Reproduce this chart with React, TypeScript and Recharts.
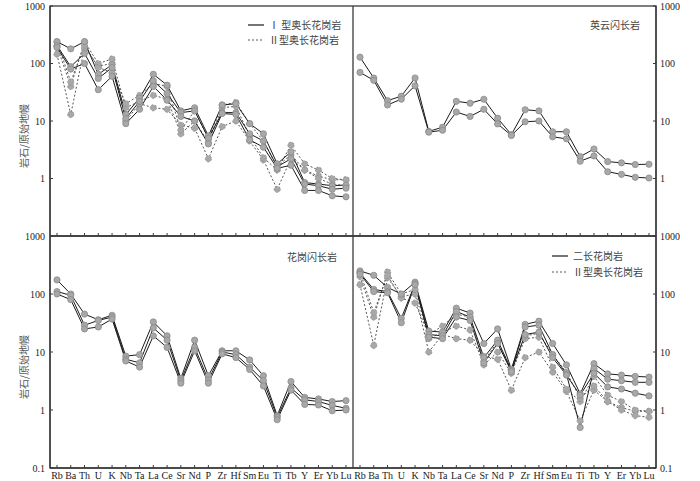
import { LineChart, Line, XAxis, YAxis } from "recharts";

const elements = ["Rb", "Ba", "Th", "U", "K", "Nb", "Ta", "La", "Ce", "Sr", "Nd", "P", "Zr", "Hf", "Sm", "Eu", "Ti", "Tb", "Y", "Er", "Yb", "Lu"];

// I型奥长花岗岩
const typeI1 = [240, 180, 240, 65, 95, 13, 25, 65, 42, 15, 17, 5.5, 19, 20, 9, 6, 1.8, 2.9, 0.85, 0.8, 0.75, 0.77];
const typeI2 = [205, 88, 150, 55, 85, 11, 22, 50, 30, 14, 15, 5, 14, 14, 6, 4.5, 1.6, 2.2, 0.8, 0.75, 0.65, 0.68];
const typeI3 = [190, 80, 100, 35, 60, 9, 16, 40, 23, 12, 10, 4, 13.5, 13, 4.7, 3.5, 1.5, 1.7, 0.62, 0.62, 0.5, 0.48];

// II型奥长花岗岩
const typeII1 = [145, 13, 190, 90, 100, 10, 20, 17, 16, 8.5, 7.5, 2.2, 8, 10, 4.5, 2.1, 0.65, 2.2, 1.4, 1.1, 0.95, 0.95];
const typeII2 = [200, 40, 240, 100, 120, 17, 22, 28, 24, 6, 10, 4.3, 17, 18, 5.5, 2.3, 1.4, 3.8, 1.8, 1.4, 1.0, 0.95];
const typeII3 = [240, 48, 210, 85, 70, 20, 28, 45, 40, 7, 15, 5, 19, 21, 9, 4.5, 1.6, 2.6, 1.4, 1.0, 0.8, 0.75];

// 英云闪长岩
const tonalite1 = [129, 56, 22.6, 27, 56, 6.6, 7.8, 22, 20.4, 23.9, 11.2, 5.8, 15.7, 15, 6.5, 6.5, 2.4, 3.26, 1.97, 1.87, 1.75, 1.77];
const tonalite2 = [70, 51, 19, 24, 41, 6.4, 6.9, 14.3, 12, 16, 8.9, 5.6, 9.7, 10, 5.3, 4.9, 2.0, 2.47, 1.31, 1.18, 1.05, 1.02];

// 花岗闪长岩
const granodiorite1 = [175, 100, 45, 36, 43, 8.5, 9, 33, 19, 3.5, 16, 3.9, 10.5, 10.5, 7.3, 3.9, 0.8, 3.1, 1.65, 1.55, 1.4, 1.45];
const granodiorite2 = [110, 95, 29, 35, 40, 7.5, 6.5, 26, 16, 3.2, 12, 3.3, 10, 9, 5.5, 3.2, 0.75, 2.4, 1.5, 1.4, 1.2, 1.07];
const granodiorite3 = [100, 80, 25, 27, 37, 7, 5.5, 19, 12, 2.9, 10.5, 2.9, 9.3, 8, 5, 2.6, 0.68, 2.2, 1.25, 1.22, 0.97, 1.0];

// 二长花岗岩
const monzogranite1 = [250, 210, 130, 100, 160, 23, 22, 57, 47, 14, 25, 5, 30, 34, 14, 6, 1.9, 6.3, 4.2, 4.0, 3.8, 3.7];
const monzogranite2 = [230, 120, 110, 38, 150, 20, 19, 50, 40, 8, 16, 4.8, 27, 29, 9, 4.2, 0.5, 5.2, 3.4, 3.2, 3.0, 3.0];
const monzogranite3 = [220, 110, 105, 32, 145, 18, 17, 40, 35, 6.5, 14, 4.6, 20, 22, 8, 4, 1.8, 4.3, 2.5, 2.3, 1.95, 1.75];

const yTicksTop = [1, 10, 100, 1000];
const yTicksBottom = [0.1, 1, 10, 100, 1000];

type Series = { key: string; values: number[]; dashed?: boolean };

const dashedII: Series[] = [
  { key: "ii1", values: typeII1, dashed: true },
  { key: "ii2", values: typeII2, dashed: true },
  { key: "ii3", values: typeII3, dashed: true },
];

const serif = "'Liberation Serif', 'DejaVu Serif', serif";
const cjk = "'Noto Sans CJK SC', sans-serif";
const frame = "#3a3a3a";

function buildRows(series: Series[]) {
  return elements.map((el, i) => {
    const row: Record<string, string | number> = { el };
    series.forEach((s) => {
      row[s.key] = s.values[i];
    });
    return row;
  });
}

function Panel({
  series,
  side,
  bottom,
  x,
  y,
}: {
  series: Series[];
  side: "left" | "right";
  bottom: boolean;
  x: number;
  y: number;
}) {
  const w = side === "left" ? 354 : 347;
  const h = bottom ? 255 : 244;
  const top = bottom ? 10 : 6;
  const margin =
    side === "left"
      ? { top, right: 1, bottom: 0, left: 10 }
      : { top, right: 4, bottom: 0, left: 0 };
  const axisLine = { stroke: frame, strokeWidth: 1.3 };

  return (
    <div style={{ position: "absolute", left: x, top: y }}>
      <LineChart width={w} height={h} data={buildRows(series)} margin={margin}>
        <XAxis
          dataKey="el"
          xAxisId="b"
          height={bottom ? 13 : 8}
          padding={{ left: 7, right: 7 }}
          interval={0}
          tickSize={-3}
          tickMargin={7}
          tick={bottom ? { fontSize: 10, fill: "#222", fontFamily: serif } : () => <g />}
          axisLine={axisLine}
          tickLine={{ stroke: frame }}
        />
        <XAxis
          dataKey="el"
          xAxisId="t"
          orientation="top"
          height={0}
          padding={{ left: 7, right: 7 }}
          tick={false}
          tickLine={false}
          axisLine={axisLine}
        />
        <YAxis
          yAxisId="m"
          orientation={side}
          type="number"
          scale="log"
          domain={[0.1, 1000]}
          allowDataOverflow
          ticks={bottom ? yTicksBottom : yTicksTop}
          interval={0}
          width={40}
          tickSize={-3}
          tickMargin={side === "left" ? 8 : 7}
          tickFormatter={(v: number) => String(v)}
          tick={{ fontSize: 10, fill: "#222", fontFamily: serif }}
          axisLine={axisLine}
          tickLine={{ stroke: frame }}
        />
        {series.map((s) => (
          <Line
            key={s.key}
            xAxisId="b"
            yAxisId="m"
            dataKey={s.key}
            stroke={s.dashed ? "#555" : "#1a1a1a"}
            strokeDasharray={s.dashed ? "2 2" : undefined}
            strokeWidth={1}
            dot={{ r: 3.1, fill: "#a8a8a8", stroke: "#8a8a8a", strokeWidth: 0.8 }}
            isAnimationActive={false}
          />
        ))}
      </LineChart>
    </div>
  );
}

const textStyle = { fontFamily: cjk, fontSize: 10, fill: "#444" };

export default function App() {
  const topLeft: Series[] = [
    ...dashedII,
    { key: "i1", values: typeI1 },
    { key: "i2", values: typeI2 },
    { key: "i3", values: typeI3 },
  ];
  const topRight: Series[] = [
    { key: "t1", values: tonalite1 },
    { key: "t2", values: tonalite2 },
  ];
  const bottomLeft: Series[] = [
    { key: "g1", values: granodiorite1 },
    { key: "g2", values: granodiorite2 },
    { key: "g3", values: granodiorite3 },
  ];
  const bottomRight: Series[] = [
    ...dashedII,
    { key: "m1", values: monzogranite1 },
    { key: "m2", values: monzogranite2 },
    { key: "m3", values: monzogranite3 },
  ];

  return (
    <div
      style={{
        position: "absolute",
        left: 0,
        top: 0,
        width: 700,
        height: 481,
        overflow: "hidden",
        background: "#fff",
      }}
    >
      <Panel series={topLeft} side="left" bottom={false} x={0} y={0} />
      <Panel series={topRight} side="right" bottom={false} x={353} y={0} />
      <Panel series={bottomLeft} side="left" bottom={true} x={0} y={226} />
      <Panel series={bottomRight} side="right" bottom={true} x={353} y={226} />

      <svg
        width={700}
        height={481}
        style={{ position: "absolute", left: 0, top: 0, pointerEvents: "none" }}
      >
        {/* panel frames */}
        <rect x={50} y={6} width={606} height={462} fill="none" stroke={frame} strokeWidth={1.3} />
        <line x1={353} x2={353} y1={6} y2={468} stroke={frame} strokeWidth={1.3} />
        <line x1={50} x2={656} y1={236} y2={236} stroke={frame} strokeWidth={1.3} />

        <text {...textStyle} transform="translate(28,136) rotate(-90)" textAnchor="middle" fill="#555">
          岩石/原始地幔
        </text>
        <text {...textStyle} transform="translate(28,367) rotate(-90)" textAnchor="middle" fill="#555">
          岩石/原始地幔
        </text>

        <line x1={248} x2={264} y1={25} y2={25} stroke="#1a1a1a" strokeWidth={1.2} />
        <text {...textStyle} x={269} y={29}>Ⅰ 型奥长花岗岩</text>
        <line x1={248} x2={264} y1={40} y2={40} stroke="#555" strokeWidth={1.2} strokeDasharray="2 2" />
        <text {...textStyle} x={269} y={44}>Ⅱ型奥长花岗岩</text>

        <text {...textStyle} x={590} y={29}>英云闪长岩</text>
        <text {...textStyle} x={287} y={261}>花岗闪长岩</text>

        <line x1={552} x2={568} y1={256} y2={256} stroke="#1a1a1a" strokeWidth={1.2} />
        <text {...textStyle} x={573} y={260}>二长花岗岩</text>
        <line x1={552} x2={568} y1={272} y2={272} stroke="#555" strokeWidth={1.2} strokeDasharray="2 2" />
        <text {...textStyle} x={573} y={276}>Ⅱ型奥长花岗岩</text>
      </svg>
    </div>
  );
}
